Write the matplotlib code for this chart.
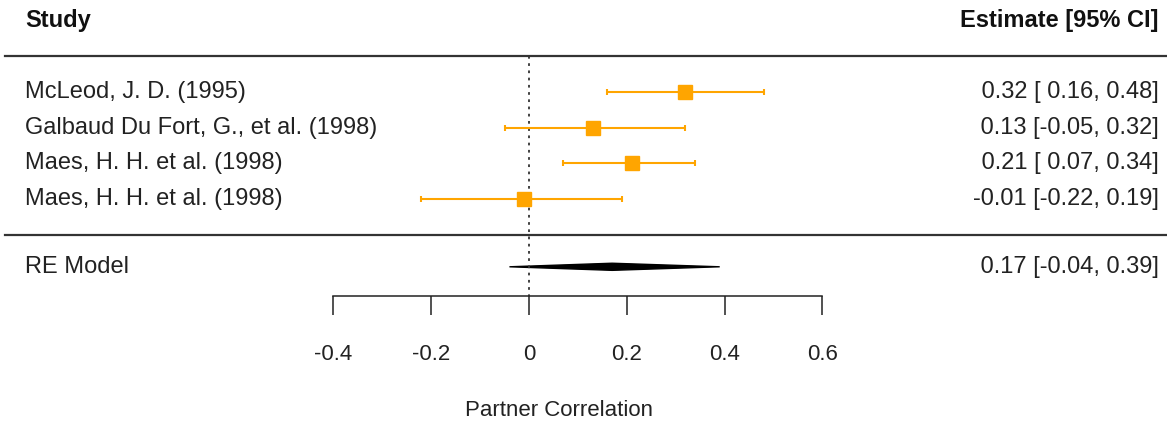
import numpy as np
import matplotlib.pyplot as plt

plt.rcParams['font.family'] = ['Liberation Sans', 'DejaVu Sans']

# ---- data
studies = ["McLeod, J. D. (1995)",
           "Galbaud Du Fort, G., et al. (1998)",
           "Maes, H. H. et al. (1998)",
           "Maes, H. H. et al. (1998)"]
est = [0.32, 0.13, 0.21, -0.01]
ci_lo = [0.16, -0.05, 0.07, -0.22]
ci_hi = [0.48, 0.32, 0.34, 0.19]
re_est, re_lo, re_hi = 0.17, -0.04, 0.39
xticks = [-0.4, -0.2, 0, 0.2, 0.4, 0.6]
xticklabels = ["-0.4", "-0.2", "0", "0.2", "0.4", "0.6"]


def fmt_col(vals):
    s = ["%.2f" % v for v in vals]
    w = max(len(x) for x in s)
    return [x.rjust(w) for x in s]


all_est = fmt_col(est + [re_est])
all_lo = fmt_col(ci_lo + [re_lo])
all_hi = fmt_col(ci_hi + [re_hi])
labels = ["%s [%s, %s]" % (a, b, c) for a, b, c in zip(all_est, all_lo, all_hi)]

rows = np.arange(len(studies), 0, -1)  # 4..1
re_row = -0.9

fig = plt.figure(figsize=(11.67, 4.23), dpi=100)
ax = fig.add_axes([0, 0, 1, 1])
ax.set_xlim(-1.0818, 1.3047)
ax.set_ylim(-5.28, 6.58)
for s in ['top', 'left', 'right']:
    ax.spines[s].set_visible(False)
ax.set_yticks([])

# bottom axis
ax.spines['bottom'].set_position(('data', -1.72))
ax.spines['bottom'].set_bounds(-0.4, 0.6)
ax.spines['bottom'].set_linewidth(1.1)
ax.spines['bottom'].set_color('#222222')
ax.set_xticks(xticks)
ax.set_xticklabels(xticklabels, fontsize=16)
ax.tick_params(axis='x', direction='out', length=13.5, width=1.1, pad=21,
               color='#222222', labelcolor='#222222')

# reference line at 0
ax.plot([0, 0], [5.0, -1.72], color='#333333', ls=(0, (1.5, 2.5)), lw=1.3)

# horizontal separators
ax.plot([-1.072, 1.3047], [5, 5], color='#333333', lw=1.6)
ax.plot([-1.072, 1.3047], [0, 0], color='#333333', lw=1.6)

# studies
ax.errorbar(est, rows, xerr=[np.array(est) - np.array(ci_lo), np.array(ci_hi) - np.array(est)],
            fmt='s', color='orange', ecolor='orange', elinewidth=1.5, capsize=2,
            capthick=1.5, markersize=9.5, zorder=3)

# RE diamond
dh = 0.1
ax.fill([re_lo, re_est, re_hi, re_est], [re_row, re_row + dh, re_row, re_row - dh],
        color='black', lw=1)

# text columns
xl = -1.0307
xr = 1.288
fs = 17
ax.text(xl, 6.0, "Study", fontsize=fs, fontweight='bold', ha='left', va='center', color='#111111')
ax.text(xr, 6.0, "Estimate [95% CI]", fontsize=fs, fontweight='bold', ha='right', va='center', color='#111111')
for r, name, lab in zip(rows, studies, labels[:-1]):
    ax.text(xl, r, name, fontsize=fs, ha='left', va='center', color='#222222')
    ax.text(xr, r, lab, fontsize=fs, ha='right', va='center', color='#222222')
ax.text(xl, re_row, "RE Model", fontsize=fs, ha='left', va='center', color='#222222')
ax.text(xr, re_row, labels[-1], fontsize=fs, ha='right', va='center', color='#222222')

ax.text(0.061, -4.94, "Partner Correlation", fontsize=16, ha='center', va='center', color='#222222')

fig.savefig("out.png", dpi=100)
